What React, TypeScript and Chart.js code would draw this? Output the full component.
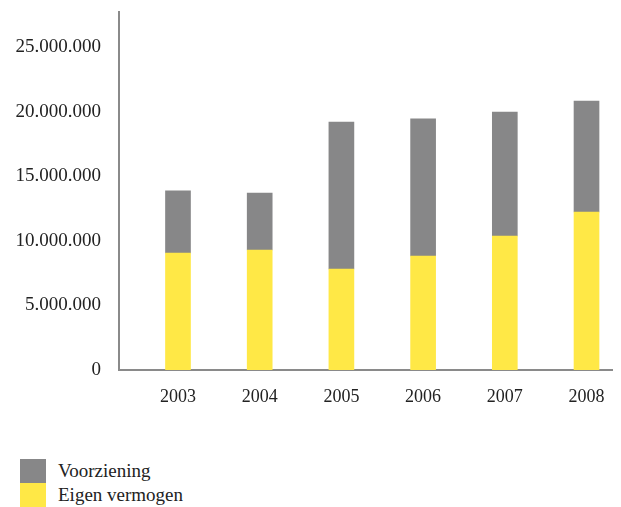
import React, { useEffect, useRef } from 'react';
import { Chart, registerables } from 'chart.js';

Chart.register(...registerables);

const years = ['2003', '2004', '2005', '2006', '2007', '2008'];
const eigenVermogen = [9070000, 9300000, 7830000, 8840000, 10390000, 12250000];
const voorziening = [4810000, 4420000, 11390000, 10620000, 9610000, 8600000];
const yTicks = [0, 5000000, 10000000, 15000000, 20000000, 25000000];

const GRAY = '#878788';
const YELLOW = '#FFE846';
const AXIS = '#8a8a8a';
const TEXT = '#222222';
const FONT = '"Liberation Serif", serif';

const fmt = (v: number) => String(Math.round(v)).replace(/\B(?=(\d{3})+(?!\d))/g, '.');

export default function App() {
  const ref = useRef<HTMLCanvasElement | null>(null);

  useEffect(() => {
    document.documentElement.style.overflow = 'hidden';
    document.body.style.overflow = 'hidden';
    const ctx = ref.current!.getContext('2d')!;
    const chart = new Chart(ctx, {
      type: 'bar',
      data: {
        datasets: [
          {
            label: 'Eigen vermogen',
            data: years.map((_, i) => ({ x: i, y: eigenVermogen[i] })),
            backgroundColor: YELLOW,
            borderWidth: 0,
            barThickness: 25,
          },
          {
            label: 'Voorziening',
            data: years.map((_, i) => ({ x: i, y: voorziening[i] })),
            backgroundColor: GRAY,
            borderWidth: 0,
            barThickness: 25,
          },
        ],
      },
      options: {
        responsive: false,
        animation: false,
        layout: { padding: { top: 4, right: 0, bottom: 0, left: 0 } },
        plugins: { legend: { display: false }, tooltip: { enabled: false } },
        scales: {
          x: {
            type: 'linear',
            stacked: true,
            offset: false,
            min: -0.722,
            max: 5.422,
            grid: { display: false, drawTicks: false },
            border: { display: true, color: AXIS, width: 2 },
            afterBuildTicks: (s: any) => {
              s.ticks = years.map((_, i) => ({ value: i }));
            },
            afterFit: (s: any) => {
              s.height = 68;
              s.paddingLeft = 0;
              s.paddingRight = 0;
            },
            ticks: {
              padding: 16,
              color: TEXT,
              font: { family: FONT, size: 18 },
              callback: (v: any) => years[Math.round(Number(v))] ?? '',
              maxRotation: 0,
              autoSkip: false,
            },
          },
          y: {
            stacked: true,
            min: 0,
            max: 27750000,
            grid: { display: false, drawTicks: false },
            border: { display: true, color: AXIS, width: 2 },
            afterBuildTicks: (s: any) => {
              s.ticks = yTicks.map((v) => ({ value: v }));
            },
            afterFit: (s: any) => {
              s.width = 111;
              s.paddingTop = 0;
              s.paddingBottom = 0;
            },
            ticks: {
              padding: 18,
              color: TEXT,
              font: { family: FONT, size: 19 },
              callback: (v: any) => fmt(Number(v)),
            },
          },
        },
      },
    });
    return () => chart.destroy();
  }, []);

  const legendItems = [
    { label: 'Voorziening', color: GRAY },
    { label: 'Eigen vermogen', color: YELLOW },
  ];

  return (
    <div style={{ position: 'relative', width: 613, height: 499 }}>
      <canvas ref={ref} width={613} height={430} style={{ display: 'block' }} />
      <div style={{ position: 'absolute', left: 12, top: 451 }}>
        {legendItems.map((it) => (
          <div key={it.label} style={{ display: 'flex', alignItems: 'center', height: 24 }}>
            <div style={{ width: 26, height: 24, background: it.color }} />
            <span style={{ marginLeft: 12, fontFamily: FONT, fontSize: 19, color: TEXT, lineHeight: '24px' }}>
              {it.label}
            </span>
          </div>
        ))}
      </div>
    </div>
  );
}
